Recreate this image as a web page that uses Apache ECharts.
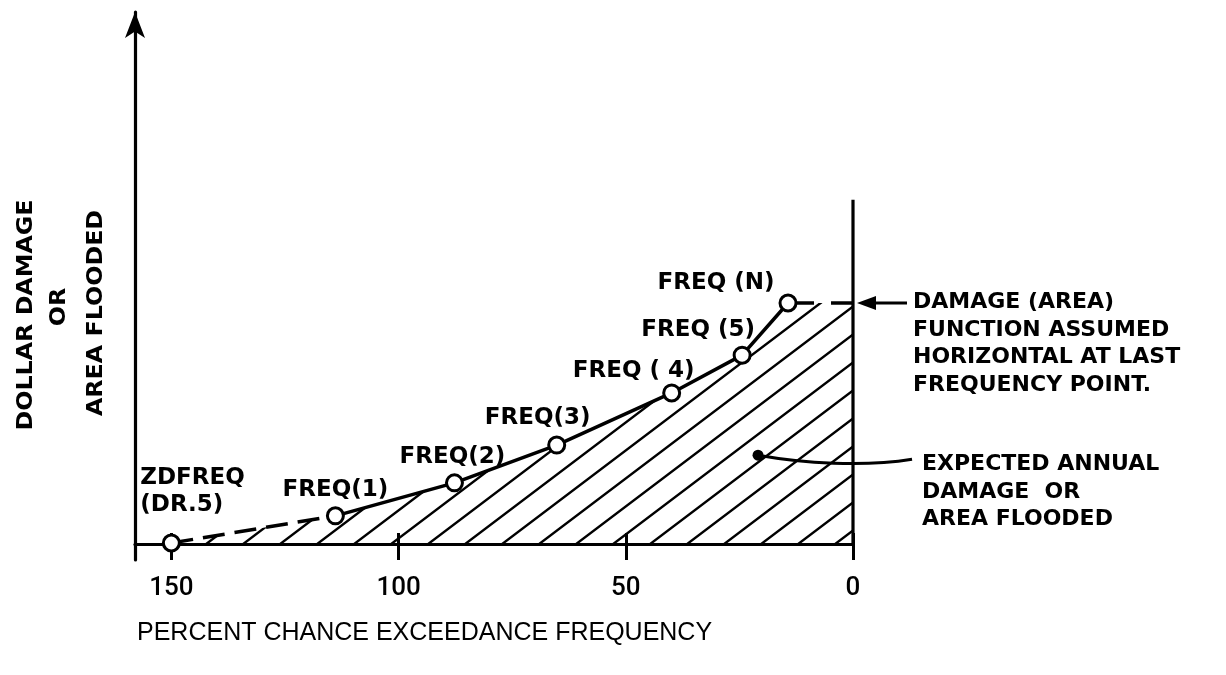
<!DOCTYPE html>
<html><head><meta charset="utf-8">
<script src="https://cdn.jsdelivr.net/npm/echarts@6/dist/echarts.min.js"></script>
<style>html,body{margin:0;padding:0;background:#fff}#c{width:1226px;height:675px}</style>
</head><body><div id="c"></div>
<script>
// ---- data ----
const pointNames = ['ZDFREQ\n(DR.5)', 'FREQ(1)', 'FREQ(2)', 'FREQ(3)', 'FREQ ( 4)', 'FREQ (5)', 'FREQ (N)'];
const exceedance = [150, 113.9, 87.7, 65.2, 39.9, 24.4, 14.3];
const damage = [0.2, 5.3, 11.5, 18.6, 28.4, 35.5, 45.3];
const xTickValues = [150, 100, 50, 0];
const xMax = 158, yMax = 100, yMin = -3;
const boundaryTop = 64.7;          // top of vertical line at 0 %
const eadPointer = [20.9, 16.7];   // where the "expected annual damage" callout points
const yTitles = ['DOLLAR DAMAGE', 'OR', 'AREA FLOODED'];
const xTitle = 'PERCENT CHANCE EXCEEDANCE FREQUENCY';
const note1 = ['DAMAGE (AREA)', 'FUNCTION ASSUMED', 'HORIZONTAL AT LAST', 'FREQUENCY POINT.'];
const note2 = ['EXPECTED ANNUAL', 'DAMAGE  OR', 'AREA FLOODED'];

// ---- styles / layout (not data) ----
const labelOffsets = [[-31, -51], [0, -26], [-2, -26], [-19, -27], [-38, -22], [-44, -25], [-72, -20]];
const BOLD = '"DejaVu Sans", sans-serif';

// hatch pattern
const tile = document.createElement('canvas');
const TW = 37, TH = 28;
tile.width = TW; tile.height = TH;
const tc = tile.getContext('2d');
tc.strokeStyle = '#000'; tc.lineWidth = 2.4; tc.lineCap = 'butt';
tc.beginPath();
tc.moveTo(-TW, 2 * TH); tc.lineTo(2 * TW, -TH);
tc.moveTo(-2 * TW, 2 * TH); tc.lineTo(TW, -TH);
tc.moveTo(0, 2 * TH); tc.lineTo(3 * TW, -TH);
tc.stroke();

const n = exceedance.length;
const pts = exceedance.map((x, i) => [x, damage[i]]);
const areaData = pts.concat([[0, damage[n - 1]]]);

const chart = echarts.init(document.getElementById('c'), null, { renderer: 'canvas' });
const axisCommon = {
  type: 'value', inverse: true, min: 0, max: xMax, gridIndex: 0, position: 'bottom',
  splitLine: { show: false }
};
chart.setOption({
  backgroundColor: '#fff',
  animation: false,
  grid: { left: 135, right: 373, top: 12, bottom: 115 },
  xAxis: [
    Object.assign({}, axisCommon, {
      axisLine: { show: true, onZero: true, lineStyle: { color: '#000', width: 3.2 } },
      axisTick: { show: false },
      axisLabel: { show: true, customValues: xTickValues, color: '#000', fontSize: 26, fontWeight: 500,
        fontFamily: 'Roboto, "Liberation Sans", Arial, sans-serif', margin: 15 }
    }),
    Object.assign({}, axisCommon, {
      axisLine: { show: false, onZero: false },
      axisTick: { show: true, inside: true, customValues: xTickValues, length: 27, lineStyle: { color: '#000', width: 3 } },
      axisLabel: { show: false }
    })
  ],
  yAxis: {
    type: 'value', min: yMin, max: yMax,
    axisLine: { show: true, onZero: false, symbol: ['none', 'arrow'], symbolSize: [15, 26],
      lineStyle: { color: '#000', width: 3.2 } },
    axisTick: { show: false }, axisLabel: { show: false }, splitLine: { show: false }
  },
  series: [
    { type: 'line', data: areaData, symbol: 'none', lineStyle: { width: 0, opacity: 0 },
      areaStyle: { color: { image: tile, repeat: 'repeat' }, opacity: 1 }, z: 1, silent: true },
    { type: 'line', data: pts.slice(0, 2), symbol: 'none', clip: false,
      lineStyle: { color: '#000', width: 3.5, type: [22, 10] }, z: 3 },
    { type: 'line', data: pts.slice(1), symbol: 'none', clip: false,
      lineStyle: { color: '#000', width: 3.5 }, z: 3 },
    { type: 'line', data: [pts[n - 1], [0, damage[n - 1]]], symbol: 'none', clip: false,
      lineStyle: { color: '#000', width: 3.5, type: [26, 17] }, z: 3 },
    { type: 'line', data: [[0, 0], [0, boundaryTop]], symbol: 'none', clip: false,
      lineStyle: { color: '#000', width: 3.2 }, z: 3 },
    { type: 'scatter', clip: false, z: 5, symbol: 'circle', symbolSize: 16,
      itemStyle: { color: '#fff', borderColor: '#000', borderWidth: 3, opacity: 1 },
      data: pts.map((p, i) => ({
        value: p, name: pointNames[i],
        label: {
          show: true, position: 'inside', formatter: '{b}',
          offset: labelOffsets[i],
          align: i === 0 ? 'left' : 'center', verticalAlign: 'middle',
          color: '#000', fontSize: 23, fontWeight: 'bold', fontFamily: BOLD, lineHeight: 27
        }
      }))
    }
  ]
});

const arrowAt = chart.convertToPixel({ seriesIndex: 0 }, [0, damage[n - 1]]);
const ptr = chart.convertToPixel({ seriesIndex: 0 }, eadPointer);
const txt = (text, x, y, extra) => Object.assign({
  type: 'text', x: x, y: y, z: 10, silent: true,
  style: Object.assign({ text: text, fill: '#000', fontSize: 22, fontWeight: 'bold', fontFamily: BOLD,
    align: 'left', verticalAlign: 'top', lineHeight: 27.5 }, extra && extra.style || {})
}, extra && extra.el || {});
const rotEl = { rotation: Math.PI / 2, scaleX: 1.08 };

chart.setOption({
  graphic: [
    txt(yTitles[0], 26, 315, { style: { align: 'center', verticalAlign: 'middle' }, el: rotEl }),
    txt(yTitles[1], 59, 307, { style: { align: 'center', verticalAlign: 'middle' }, el: rotEl }),
    txt(yTitles[2], 96, 313, { style: { align: 'center', verticalAlign: 'middle' }, el: rotEl }),
    txt(note1.join('\n'), 913, 289),
    txt(note2.join('\n'), 922, 451),
    txt(xTitle, 137, 633, { style: { fontWeight: 'normal', fontSize: 25, verticalAlign: 'middle',
      fontFamily: '"Liberation Sans", Arial, sans-serif' } }),
    { type: 'line', z: 10, silent: true,
      shape: { x1: arrowAt[0] + 54, y1: arrowAt[1], x2: arrowAt[0] + 18, y2: arrowAt[1] },
      style: { stroke: '#000', lineWidth: 3 } },
    { type: 'polygon', z: 10, silent: true,
      shape: { points: [[arrowAt[0] + 4, arrowAt[1]], [arrowAt[0] + 23, arrowAt[1] - 7], [arrowAt[0] + 23, arrowAt[1] + 7]] },
      style: { fill: '#000' } },
    { type: 'bezierCurve', z: 10, silent: true,
      shape: { x1: ptr[0], y1: ptr[1], cpx1: ptr[0] + 45, cpy1: ptr[1] + 8, cpx2: ptr[0] + 105, cpy2: ptr[1] + 12, x2: ptr[0] + 154, y2: ptr[1] + 4 },
      style: { stroke: '#000', lineWidth: 3, fill: null } },
    { type: 'circle', z: 11, silent: true, shape: { cx: ptr[0], cy: ptr[1], r: 5.5 }, style: { fill: '#000' } }
  ]
});
</script>
</body></html>
